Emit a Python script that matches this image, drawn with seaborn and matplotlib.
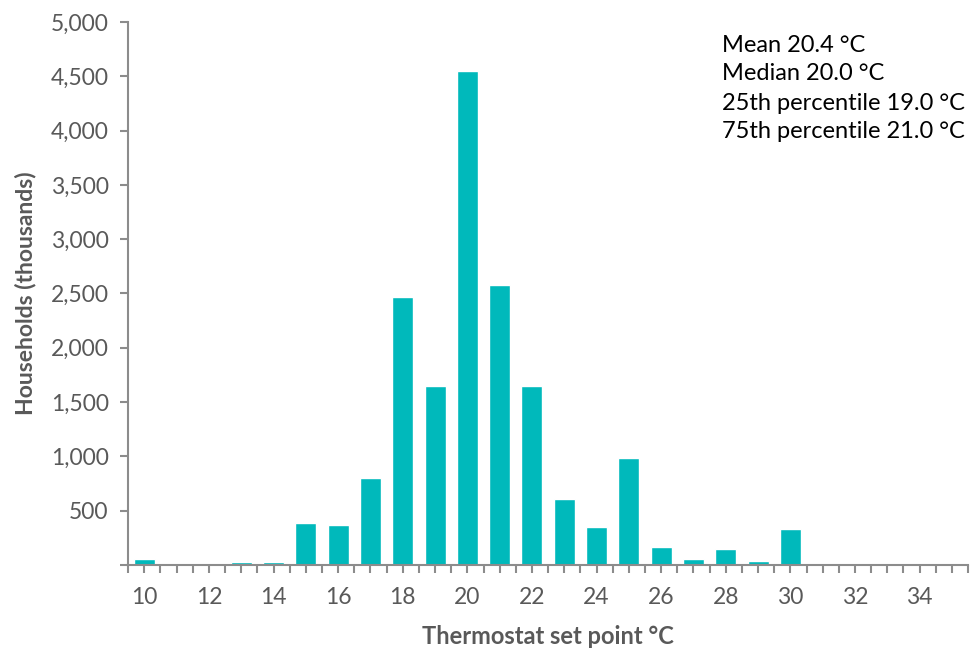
import matplotlib
matplotlib.use("Agg")
import matplotlib.pyplot as plt
from matplotlib.ticker import FuncFormatter, FixedLocator
import seaborn as sns
import pandas as pd

# Daten
temperaturen = list(range(10, 36))
haushalte = [50, 0, 0, 30, 30, 385, 365, 800, 2470, 1645, 4545, 2580, 1645, 605,
             345, 985, 160, 50, 145, 35, 330, 0, 0, 0, 0, 8]
stat_texte = ["Mean 20.4 \u00b0C", "Median 20.0 \u00b0C",
              "25th percentile 19.0 \u00b0C", "75th percentile 21.0 \u00b0C"]

sns.set_style("white")
plt.rcParams['font.family'] = ['Lato', 'DejaVu Sans']

df = pd.DataFrame({'temp': [str(t) for t in temperaturen], 'wert': haushalte})

fig = plt.figure(figsize=(9.71, 6.5), dpi=100)
ax = fig.add_axes([0.132, 0.131, 0.865, 0.835])
sns.barplot(data=df, x='temp', y='wert', color='#00B9BB', saturation=1,
            width=0.65, ax=ax, order=df['temp'])

grau = '#8c8c8c'
ax.set_xlim(-0.5, len(temperaturen) - 0.5)
ax.set_ylim(0, 5000)
ax.set_yticks(range(0, 5001, 500))
ax.yaxis.set_major_formatter(FuncFormatter(lambda v, p: '' if v == 0 else f'{int(v):,}'))

pos = list(range(len(temperaturen)))
ax.xaxis.set_major_locator(FixedLocator(pos))
ax.set_xticklabels([str(t) if t % 2 == 0 else '' for t in temperaturen])
ax.xaxis.set_minor_locator(FixedLocator([p - 0.5 for p in pos] + [pos[-1] + 0.5]))

for s in ['top', 'right']:
    ax.spines[s].set_visible(False)
for s in ['left', 'bottom']:
    ax.spines[s].set_color(grau)
    ax.spines[s].set_linewidth(1.5)

ax.tick_params(axis='x', which='both', direction='out', length=6, width=1.5,
               color=grau, labelcolor='#595959', labelsize=16.5, pad=10, bottom=True)
ax.tick_params(axis='y', direction='out', length=6, width=1.5, color=grau,
               labelcolor='#595959', labelsize=16.5, pad=8, left=True)

ax.set_xlabel('Thermostat set point \u00b0C', fontsize=17, fontweight='bold',
              color='#595959', labelpad=12)
ax.set_ylabel('Households (thousands)', fontsize=16.5, fontweight='bold',
              color='#595959', labelpad=10)

for i, t in enumerate(stat_texte):
    fig.text(722 / 971, 1 - (45 + i * 29) / 650, t, fontsize=17, color='black',
             ha='left', va='center')

fig.savefig('out.png', dpi=100)
